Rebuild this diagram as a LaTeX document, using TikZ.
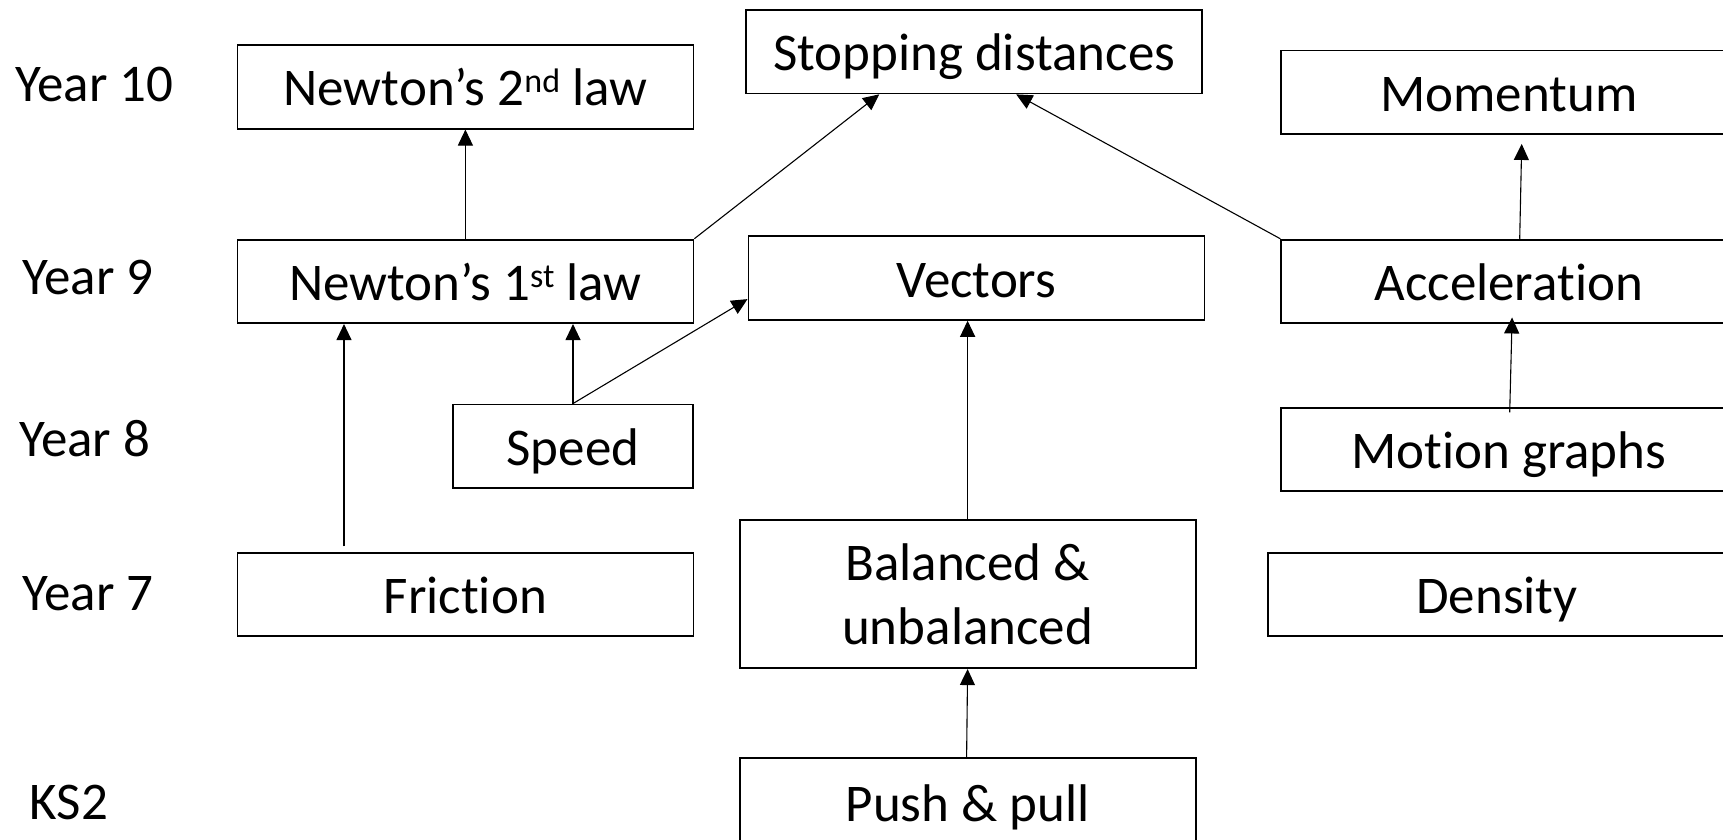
\documentclass[tikz,border=0pt]{standalone}
\usepackage{fontspec}
\setmainfont{Carlito}[Ligatures=NoCommon]
\usetikzlibrary{arrows.meta}
\newcommand{\ordsup}[1]{\raisebox{13pt}{\fontsize{34}{40}\selectfont #1}}
\begin{document}
\begin{tikzpicture}[x=1pt,y=-1pt,
  topicbase/.style={draw, line width=1.8pt, inner sep=0pt, align=center,
    font=\fontsize{53}{64}\selectfont},
  topic/.style={topicbase, text height=38pt, text depth=0pt},
  yearlabel/.style={inner sep=0pt, text height=38pt, text depth=0pt,
    font=\fontsize{53}{64}\selectfont},
  link/.style={line width=1.1pt, -{Triangle[length=16pt,width=15pt]}}
]
\path[use as bounding box] (0,0) rectangle (1723,839);
\clip (0,0) rectangle (1723,839);
\fill[white] (0,0) rectangle (1723,839);

% year labels
\node[yearlabel] (y10) at (94.5,82) {Year 10};
\node[yearlabel] (y9)  at (88,275) {Year 9};
\node[yearlabel] (y8)  at (84.6,437) {Year 8};
\node[yearlabel] (y7)  at (88,591) {Year 7};
\node[yearlabel] (ks2) at (69,800) {KS2};

% topics
\node[topic, minimum width=456, minimum height=83.5] (n2)   at (465.4,86.9)  {Newton’s 2\ordsup{nd} law};
\node[topic, minimum width=456, minimum height=83.5] (stop) at (974.2,51.7)  {Stopping distances};
\node[topic, minimum width=455, minimum height=83.5] (mom)  at (1508.7,92.3) {Momentum};
\node[topic, minimum width=456, minimum height=83.5] (n1)   at (465.4,281.4) {Newton’s 1\ordsup{st} law};
\node[topic, minimum width=456, minimum height=83.5] (vec)  at (976.4,278.1) {Vectors};
\node[topic, minimum width=455, minimum height=83.5] (acc)  at (1508.7,281.4) {Acceleration};
\node[topic, minimum width=240.7, minimum height=83.5] (spd) at (573,446.2)  {Speed};
\node[topic, minimum width=455, minimum height=83.5] (mg)   at (1508.7,449.5) {Motion graphs};
\node[topic, minimum width=456, minimum height=83.5] (fric) at (465.4,594.5) {Friction};
\node[topicbase, minimum width=456, minimum height=148.3] (bal) at (967.6,594) {Balanced \&\\unbalanced};
\node[topic, minimum width=458, minimum height=83.5] (dens) at (1497,594.5) {Density};
\node[topic, minimum width=456, minimum height=87.6] (push) at (967.6,802) {Push \& pull};

% prerequisite links
\draw[link] (n1.north) -- (n2.south);
\draw[link] (n1.north east) -- ([xshift=-95pt]stop.south);
\draw[link] (acc.north west) -- ([xshift=42pt]stop.south);
\draw[link] ([xshift=11pt]acc.north) -- ([xshift=13pt,yshift=-9pt]mom.south);
\draw[link] ([xshift=1pt,yshift=-5.5pt]mg.north) -- ([xshift=3.4pt,yshift=6.6pt]acc.south);
\draw[link] ([xshift=-121.4pt,yshift=5.4pt]fric.north) -- ([xshift=-121.4pt]n1.south);
\draw[link] (spd.north) -- (spd.north |- n1.south);
\draw[link] (spd.north) -- ([yshift=-21pt]vec.west);
\draw[link] (bal.north) -- (bal.north |- vec.south);
\draw[link] ([xshift=-1pt]push.north) -- (bal.south);
\end{tikzpicture}
\end{document}
